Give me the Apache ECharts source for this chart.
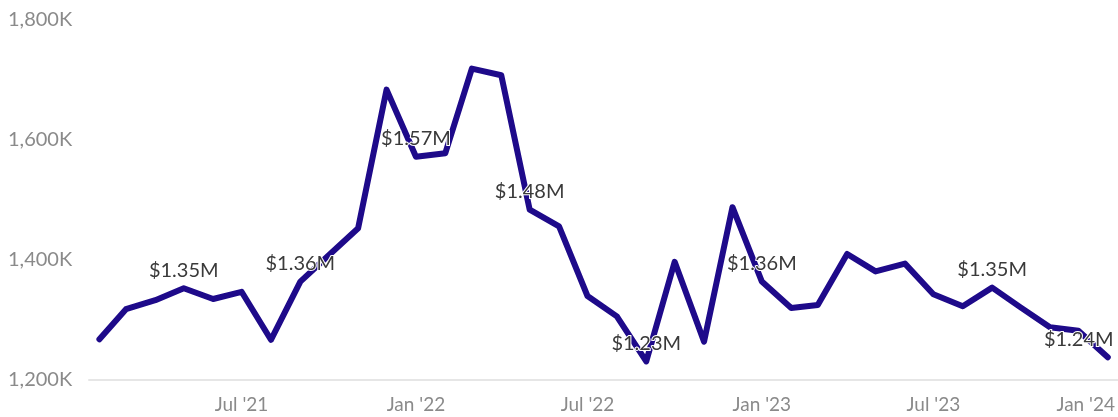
<!DOCTYPE html>
<html>
<head>
<meta charset="utf-8">
<script src="https://cdn.jsdelivr.net/npm/echarts@6/dist/echarts.min.js"></script>
<style>
  html, body { margin: 0; padding: 0; background: #fff; }
  #chart { width: 1118px; height: 417px; }
</style>
</head>
<body>
<div id="chart"></div>
<script>
// monthly values, in thousands of dollars
var months = [
  '2021-02', '2021-03', '2021-04', '2021-05', '2021-06', '2021-07', '2021-08', '2021-09', '2021-10', '2021-11', '2021-12',
  '2022-01', '2022-02', '2022-03', '2022-04', '2022-05', '2022-06', '2022-07', '2022-08', '2022-09', '2022-10', '2022-11', '2022-12',
  '2023-01', '2023-02', '2023-03', '2023-04', '2023-05', '2023-06', '2023-07', '2023-08', '2023-09', '2023-10', '2023-11', '2023-12',
  '2024-01'
];
var values = [
  1268, 1318, 1333, 1353, 1335, 1347, 1267, 1364, 1408, 1453, 1684,
  1572, 1578, 1719, 1708, 1484, 1456, 1340, 1306, 1231, 1397, 1264, 1488,
  1364, 1320, 1325, 1410, 1381, 1394, 1343, 1323, 1354, 1321, 1288, 1282,
  1238
];
// points that carry a value label
var labelled = ['2021-05', '2021-09', '2022-01', '2022-05', '2022-09', '2023-01', '2023-09', '2024-01'];
var xTicks = ['2021-07', '2022-01', '2022-07', '2023-01', '2023-07', '2024-01'];
var yTicks = [1200, 1400, 1600, 1800];

function toTime(s) {
  var p = s.split('-');
  return new Date(+p[0], +p[1] - 1, p[2] ? +p[2] : 1).getTime();
}
function withCommas(v) {
  return String(v).replace(/\B(?=(\d{3})+(?!\d))/g, ',');
}
var monthNames = ['Jan', 'Feb', 'Mar', 'Apr', 'May', 'Jun', 'Jul', 'Aug', 'Sep', 'Oct', 'Nov', 'Dec'];
var lastTick = toTime(xTicks[xTicks.length - 1]);

var seriesData = months.map(function (m, i) {
  var item = { value: [toTime(m), values[i]] };
  if (labelled.indexOf(m) >= 0) item.label = { show: true };
  // last label is pulled inside the chart edge
  if (i === months.length - 1) item.label.offset = [-29, 0];
  return item;
});

var myChart = echarts.init(document.getElementById('chart'), null, { renderer: 'canvas' });

var option = {
  animation: false,
  textStyle: { fontFamily: 'Lato, sans-serif' },
  grid: { left: 89, right: 0, top: 20, bottom: 37 },
  xAxis: {
    type: 'value',
    min: toTime('2021-01-21'),
    max: toTime('2024-01-11'),
    axisLine: { show: true, lineStyle: { color: '#e6e6e6', width: 2 } },
    axisTick: { show: false },
    splitLine: { show: false },
    axisLabel: {
      customValues: xTicks.map(toTime),
      color: '#8a8a8a',
      fontSize: 19,
      fontFamily: 'Lato',
      margin: 15,
      formatter: function (v) {
        var d = new Date(v);
        var txt = monthNames[d.getMonth()] + " '" + String(d.getFullYear()).slice(2);
        return v >= lastTick ? '{last|' + txt + '}' : txt;
      },
      rich: {
        last: { fontSize: 19, color: '#8a8a8a', fontFamily: 'Lato', padding: [0, 44, 0, 0] }
      }
    }
  },
  yAxis: {
    type: 'value',
    min: yTicks[0],
    max: yTicks[yTicks.length - 1],
    interval: 200,
    axisLine: { show: false },
    axisTick: { show: false },
    splitLine: { show: false },
    axisLabel: {
      color: '#8a8a8a',
      fontSize: 20,
      fontFamily: 'Lato',
      align: 'left',
      margin: 81,
      formatter: function (v) { return withCommas(v) + 'K'; }
    }
  },
  series: [
    {
      type: 'line',
      data: seriesData,
      showSymbol: true,
      symbol: 'circle',
      symbolSize: 0,
      lineStyle: { color: '#1e0a8a', width: 6, cap: 'round', join: 'round' },
      itemStyle: { color: '#1e0a8a' },
      label: {
        show: false,
        position: 'top',
        distance: 8,
        color: '#3a3a3a',
        fontSize: 20,
        fontFamily: 'Lato',
        textBorderColor: '#fff',
        textBorderWidth: 2,
        formatter: function (p) { return '$' + (p.value[1] / 1000).toFixed(2) + 'M'; }
      }
    }
  ]
};

myChart.setOption(option);
window.addEventListener('resize', function () { myChart.resize(); });
</script>
</body>
</html>
